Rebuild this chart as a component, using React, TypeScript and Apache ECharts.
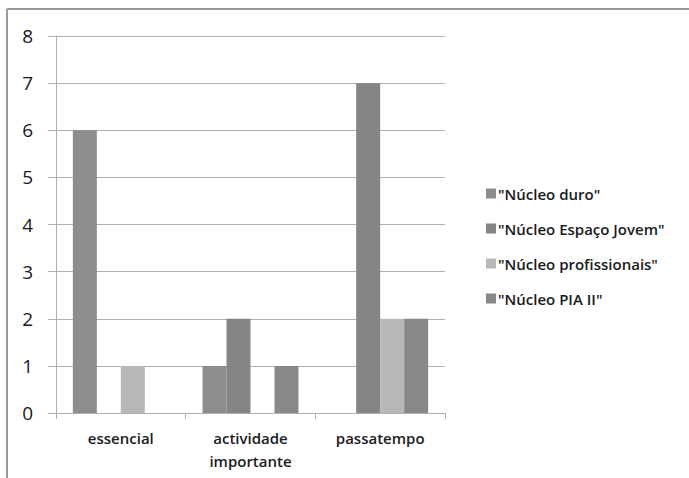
import React, { useEffect, useRef } from "react";
import * as echarts from "echarts";

const categories = ["essencial", "actividade\nimportante", "passatempo"];
const seriesNames = [
  "\"Núcleo duro\"",
  "\"Núcleo Espaço Jovem\"",
  "\"Núcleo profissionais\"",
  "\"Núcleo PIA II\"",
];
const nucleoDuro = [6, 1, 0];
const nucleoEspacoJovem = [0, 2, 7];
const nucleoProfissionais = [1, 0, 2];
const nucleoPiaII = [0, 1, 2];
const seriesColors = ["#8d8d8d", "#858585", "#b8b8b8", "#898989"];
const yTicks = [0, 1, 2, 3, 4, 5, 6, 7, 8];

const FONT = "'Open Sans', 'Noto Sans', sans-serif";

export default function App() {
  const ref = useRef<HTMLDivElement>(null);
  useEffect(() => {
    document.body.style.margin = "0";
    const chart = echarts.init(ref.current!, null, { renderer: "svg" });
    const values = [nucleoDuro, nucleoEspacoJovem, nucleoProfissionais, nucleoPiaII];
    chart.setOption({
      animation: false,
      backgroundColor: "#ffffff",
      grid: { left: 56, right: 244, top: 36, bottom: 65, containLabel: false },
      legend: {
        orient: "vertical",
        left: 481,
        top: 181,
        itemWidth: 10,
        itemHeight: 10,
        itemGap: 20,
        icon: "rect",
        textStyle: { fontFamily: FONT, fontSize: 15, fontWeight: 600, color: "#1a1a1a", padding: [0, 0, 0, -3] },
        data: seriesNames,
      },
      xAxis: {
        type: "category",
        data: categories,
        axisLine: { lineStyle: { color: "#b0b0b0", width: 1 } },
        axisTick: { show: true, length: 6, alignWithLabel: false, lineStyle: { color: "#b0b0b0" } },
        axisLabel: {
          fontFamily: FONT,
          fontSize: 15,
          fontWeight: 600,
          color: "#1a1a1a",
          margin: 13,
          lineHeight: 23,
          interval: 0,
        },
      },
      yAxis: {
        type: "value",
        min: 0,
        max: 8,
        interval: 1,
        axisLine: { show: true, lineStyle: { color: "#b0b0b0", width: 1 } },
        axisTick: { show: true, length: 8, lineStyle: { color: "#b0b0b0" } },
        splitLine: { show: true, lineStyle: { color: "#b0b0b0", width: 1 } },
        axisLabel: {
          fontFamily: FONT,
          fontSize: 19,
          color: "#1a1a1a",
          margin: 23,
          formatter: (v: number) => (yTicks.includes(v) ? String(v) : ""),
        },
      },
      series: seriesNames.map((name, i) => ({
        name,
        type: "bar",
        data: values[i],
        barGap: "0%",
        barCategoryGap: "26%",
        itemStyle: { color: seriesColors[i] },
      })),
      graphic: [
        {
          type: "line",
          shape: { x1: 7, y1: 9, x2: 689, y2: 9 },
          style: { stroke: "#9a9a9a", lineWidth: 2 },
          silent: true,
        },
        {
          type: "line",
          shape: { x1: 7, y1: 9, x2: 7, y2: 478 },
          style: { stroke: "#9a9a9a", lineWidth: 2 },
          silent: true,
        },
      ],
    });
    return () => chart.dispose();
  }, []);
  return <div ref={ref} style={{ width: 689, height: 478 }} />;
}
